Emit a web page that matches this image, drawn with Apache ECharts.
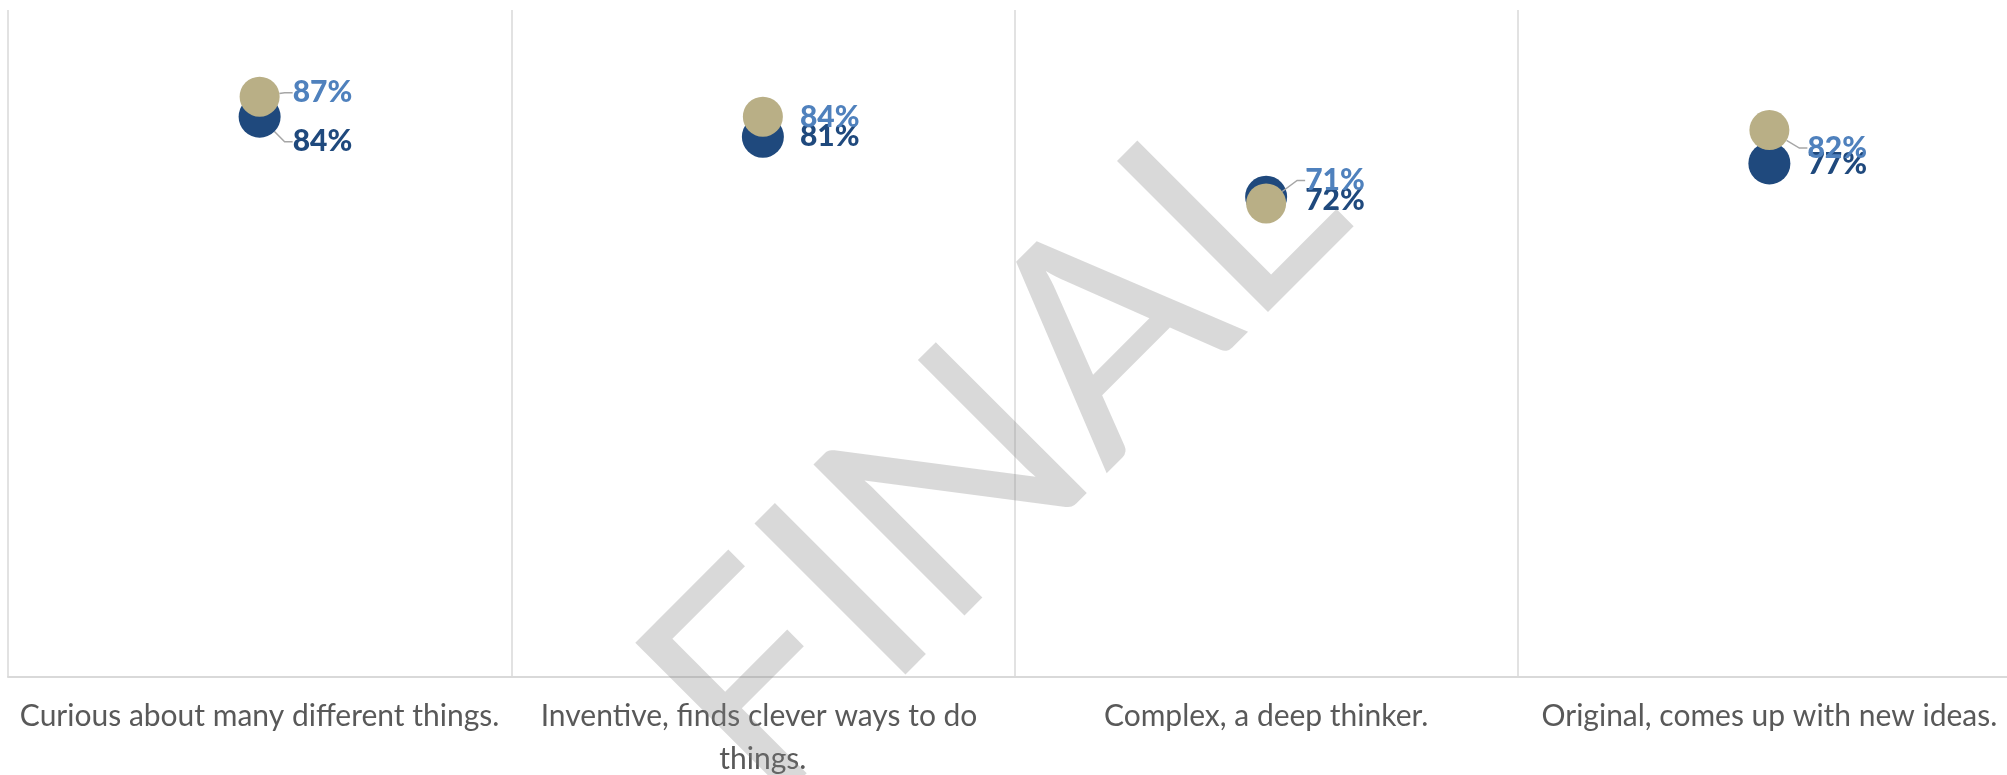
<!DOCTYPE html>
<html>
<head>
<meta charset="utf-8">
<script src="https://cdn.jsdelivr.net/npm/echarts@6/dist/echarts.min.js"></script>
<style>
  html, body { margin: 0; padding: 0; background: #ffffff; overflow: hidden; }
  #chart { width: 2007px; height: 775px; }
</style>
</head>
<body>
<div id="chart"></div>
<script>
// ---- data ----
const categories = [
  'Curious about many different things.',
  'Inventive, finds clever ways to do things.',
  'Complex, a deep thinker.',
  'Original, comes up with new ideas.'
];
const seriesDarkName = 'Group A';
const seriesDarkValues = [84, 81, 72, 77];
const seriesTanName = 'Group B';
const seriesTanValues = [87, 84, 71, 82];
const watermarkText = 'FINAL';

// ---- label layout offsets (pixels, styling only) ----
const darkLabelShift = [[0, 25], [4, 0], [6, 4], [5, 1]];
const tanLabelShift = [[0, -4], [4, 1], [6, -23], [5, 18]];
const darkLeader = [true, false, false, false];
const tanLeader = [true, false, true, true];

const chart = echarts.init(document.getElementById('chart'), null, { renderer: 'canvas' });

function makeData(vals, leaders) {
  return vals.map((v, i) => ({
    value: [categories[i], v],
    labelLine: { show: leaders[i] }
  }));
}

const option = {
  animation: false,
  backgroundColor: '#ffffff',
  grid: { left: 8, width: 2013, top: 10, height: 667, containLabel: false, outerBoundsMode: 'none' },
  xAxis: {
    type: 'category',
    data: categories,
    boundaryGap: true,
    axisLine: { show: true, lineStyle: { color: '#D9D9D9', width: 2 } },
    axisTick: { show: false },
    splitLine: { show: true, interval: 0, lineStyle: { color: '#D9D9D9', width: 1.5 } },
    axisLabel: {
      interval: 0,
      color: '#595959',
      fontFamily: 'Lato',
      fontSize: 30,
      lineHeight: 43,
      margin: 18,
      width: 490,
      overflow: 'break'
    }
  },
  yAxis: {
    type: 'value',
    min: 0,
    max: 100,
    show: false,
    splitLine: { show: false }
  },
  graphic: [{
    type: 'text',
    x: 994,
    y: 450,
    rotation: Math.PI / 4,
    z: 100,
    silent: true,
    style: {
      text: watermarkText,
      font: '298px Lato',
      fill: 'rgba(128,128,128,0.30)',
      align: 'center',
      verticalAlign: 'middle'
    }
  }],
  series: [
    {
      name: seriesDarkName,
      type: 'scatter',
      symbol: 'circle',
      symbolSize: 42,
      z: 2,
      itemStyle: { color: '#1F497D', opacity: 1 },
      label: {
        show: true,
        position: 'right',
        distance: 12,
        formatter: p => p.value[1] + '%',
        color: '#1F497D',
        fontFamily: 'Lato',
        fontWeight: 900,
        fontSize: 30
      },
      labelLine: { show: false, length2: 8, lineStyle: { color: '#A6A6A6', width: 1.5 } },
      labelLayout: p => ({ dx: darkLabelShift[p.dataIndex][0], dy: darkLabelShift[p.dataIndex][1] }),
      data: makeData(seriesDarkValues, darkLeader)
    },
    {
      name: seriesTanName,
      type: 'scatter',
      symbol: 'circle',
      symbolSize: 40,
      z: 3,
      itemStyle: { color: '#B9AF86', opacity: 1 },
      label: {
        show: true,
        position: 'right',
        distance: 13,
        formatter: p => p.value[1] + '%',
        color: '#4F81BD',
        fontFamily: 'Lato',
        fontWeight: 900,
        fontSize: 30
      },
      labelLine: { show: false, length2: 8, lineStyle: { color: '#A6A6A6', width: 1.5 } },
      labelLayout: p => ({ dx: tanLabelShift[p.dataIndex][0], dy: tanLabelShift[p.dataIndex][1] }),
      data: makeData(seriesTanValues, tanLeader)
    }
  ]
};

chart.setOption(option);
</script>
</body>
</html>
